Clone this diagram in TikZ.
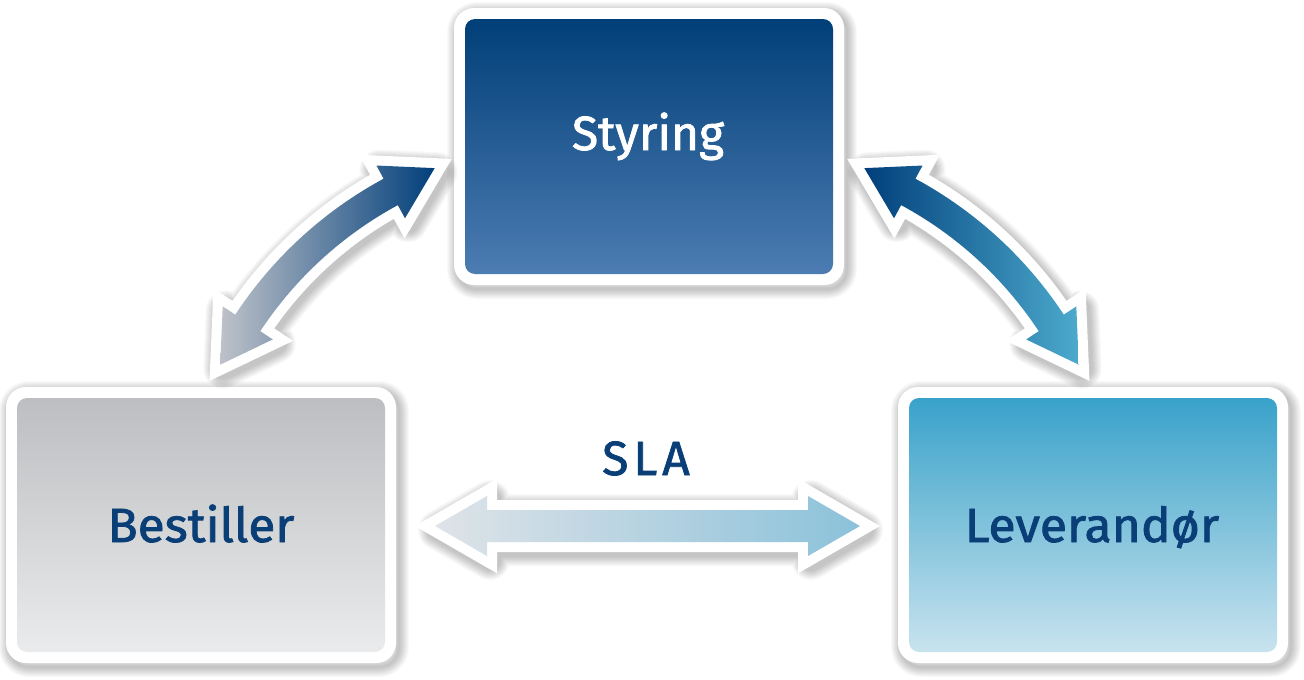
\documentclass[tikz,border=0pt]{standalone}
\usepackage{fontspec}
\newfontfamily\lblfont{Fira Sans}[FakeBold=1.6]
\usetikzlibrary{calc}
\definecolor{txtblue}{HTML}{0A3E77}
\definecolor{navy}{HTML}{013F7B}
\definecolor{stytop}{HTML}{013F78}
\definecolor{stybot}{HTML}{4C7CB2}
\definecolor{bestop}{HTML}{BDBEC1}
\definecolor{besbot}{HTML}{EAEBEC}
\definecolor{levtop}{HTML}{39A2CA}
\definecolor{levbot}{HTML}{C8E3EE}
\definecolor{arrgrey}{HTML}{BEC2C9}
\definecolor{arrlight}{HTML}{4CAACD}
\definecolor{slaleft}{HTML}{DFE3E8}
\definecolor{slaright}{HTML}{8BC2DA}
% curved double arrow: cx, cy, R, a1, a2
\newcommand{\carrowpath}[5]{%
 ($(#1,#2)+({#4}:{#3+15})$) -- ($(#1,#2)+({#4}:{#3+30})$) -- ($(#1,#2)+({#4}:{#3})+({#4+90}:50)$) -- ($(#1,#2)+({#4}:{#3-30})$) -- ($(#1,#2)+({#4}:{#3-15})$) arc[start angle={#4}, end angle={#5}, radius={#3-15}] -- ($(#1,#2)+({#5}:{#3-30})$) -- ($(#1,#2)+({#5}:{#3})+({#5-90}:50)$) -- ($(#1,#2)+({#5}:{#3+30})$) -- ($(#1,#2)+({#5}:{#3+15})$) arc[start angle={#5}, end angle={#4}, radius={#3+15}] -- cycle}
\newcommand{\slapath}{(435,-526) -- (487,-496) -- (487,-510) -- (808,-510) -- (808,-496) -- (860,-526) -- (808,-556) -- (808,-542) -- (487,-542) -- (487,-556) -- cycle}
\tikzset{
  lbl/.style={anchor=base, font=\lblfont\fontsize{48}{48}\selectfont, text=txtblue, inner sep=0pt},
  whiteedge/.style={draw=white, fill=white, line width=20pt, line join=miter},
}
\newcommand{\boxshadow}[4]{%
 \begin{scope}[shift={(3,-4)}]
 \foreach \k in {1,...,10}{\pgfmathsetmacro\lw{2*\k}
   \draw[black, opacity=0.022, line width=\lw pt, rounded corners=20pt] (#1,#2) rectangle (#3,#4);}
 \end{scope}}
\newcommand{\arrowshadow}[1]{%
 \begin{scope}[shift={(3,-4)}]
 \foreach \k in {1,...,10}{\pgfmathsetmacro\lw{20+2*\k}
   \draw[black, opacity=0.025, line width=\lw pt, line join=round] #1;}
 \end{scope}}
\begin{document}
\begin{tikzpicture}[x=1pt,y=1pt]
\fill[white] (0,0) rectangle (1304,-680);
\useasboundingbox (0,0) rectangle (1304,-680);
% box shadows
\boxshadow{454}{-8}{844}{-285}
\boxshadow{6}{-387}{396}{-663}
\boxshadow{898}{-387}{1288}{-663}
% white frames
\fill[white, rounded corners=20pt] (454,-8) rectangle (844,-285);
\fill[white, rounded corners=20pt] (6,-387) rectangle (396,-663);
\fill[white, rounded corners=20pt] (898,-387) rectangle (1288,-663);
% coloured boxes
\shade[top color=stytop, bottom color=stybot, rounded corners=10pt] (465,-19) rectangle (833,-274);
\shade[top color=bestop, bottom color=besbot, rounded corners=10pt] (17,-398) rectangle (385,-652);
\shade[top color=levtop, bottom color=levbot, rounded corners=10pt] (909,-398) rectangle (1277,-652);
% arrow shadows
\arrowshadow{\carrowpath{580}{-542}{398}{146.6}{118.4}}
\arrowshadow{\carrowpath{719}{-542}{398}{61.6}{33.4}}
\arrowshadow{\slapath}
% white edges of arrows
\path[whiteedge] \carrowpath{580}{-542}{398}{146.6}{118.4};
\path[whiteedge] \carrowpath{719}{-542}{398}{61.6}{33.4};
\path[whiteedge] \slapath;
% arrows
\shade[left color=arrgrey, right color=navy] \carrowpath{580}{-542}{398}{146.6}{118.4};
\shade[left color=navy, right color=arrlight] \carrowpath{719}{-542}{398}{61.6}{33.4};
\shade[left color=slaleft, right color=slaright] \slapath;
% labels
\node[lbl, text=white] (styring) at (648,-150) {Styring};
\node[lbl] (bestiller) at (201,-542) {\scalebox{1.03}[1]{Bestiller}};
\node[lbl] (leverandor) at (1092,-542) {\scalebox{1.04}[1]{Leverandør}};
\node[lbl] (sla) at (646,-475) {S\kern5pt L\kern5pt A};
\end{tikzpicture}
\end{document}
